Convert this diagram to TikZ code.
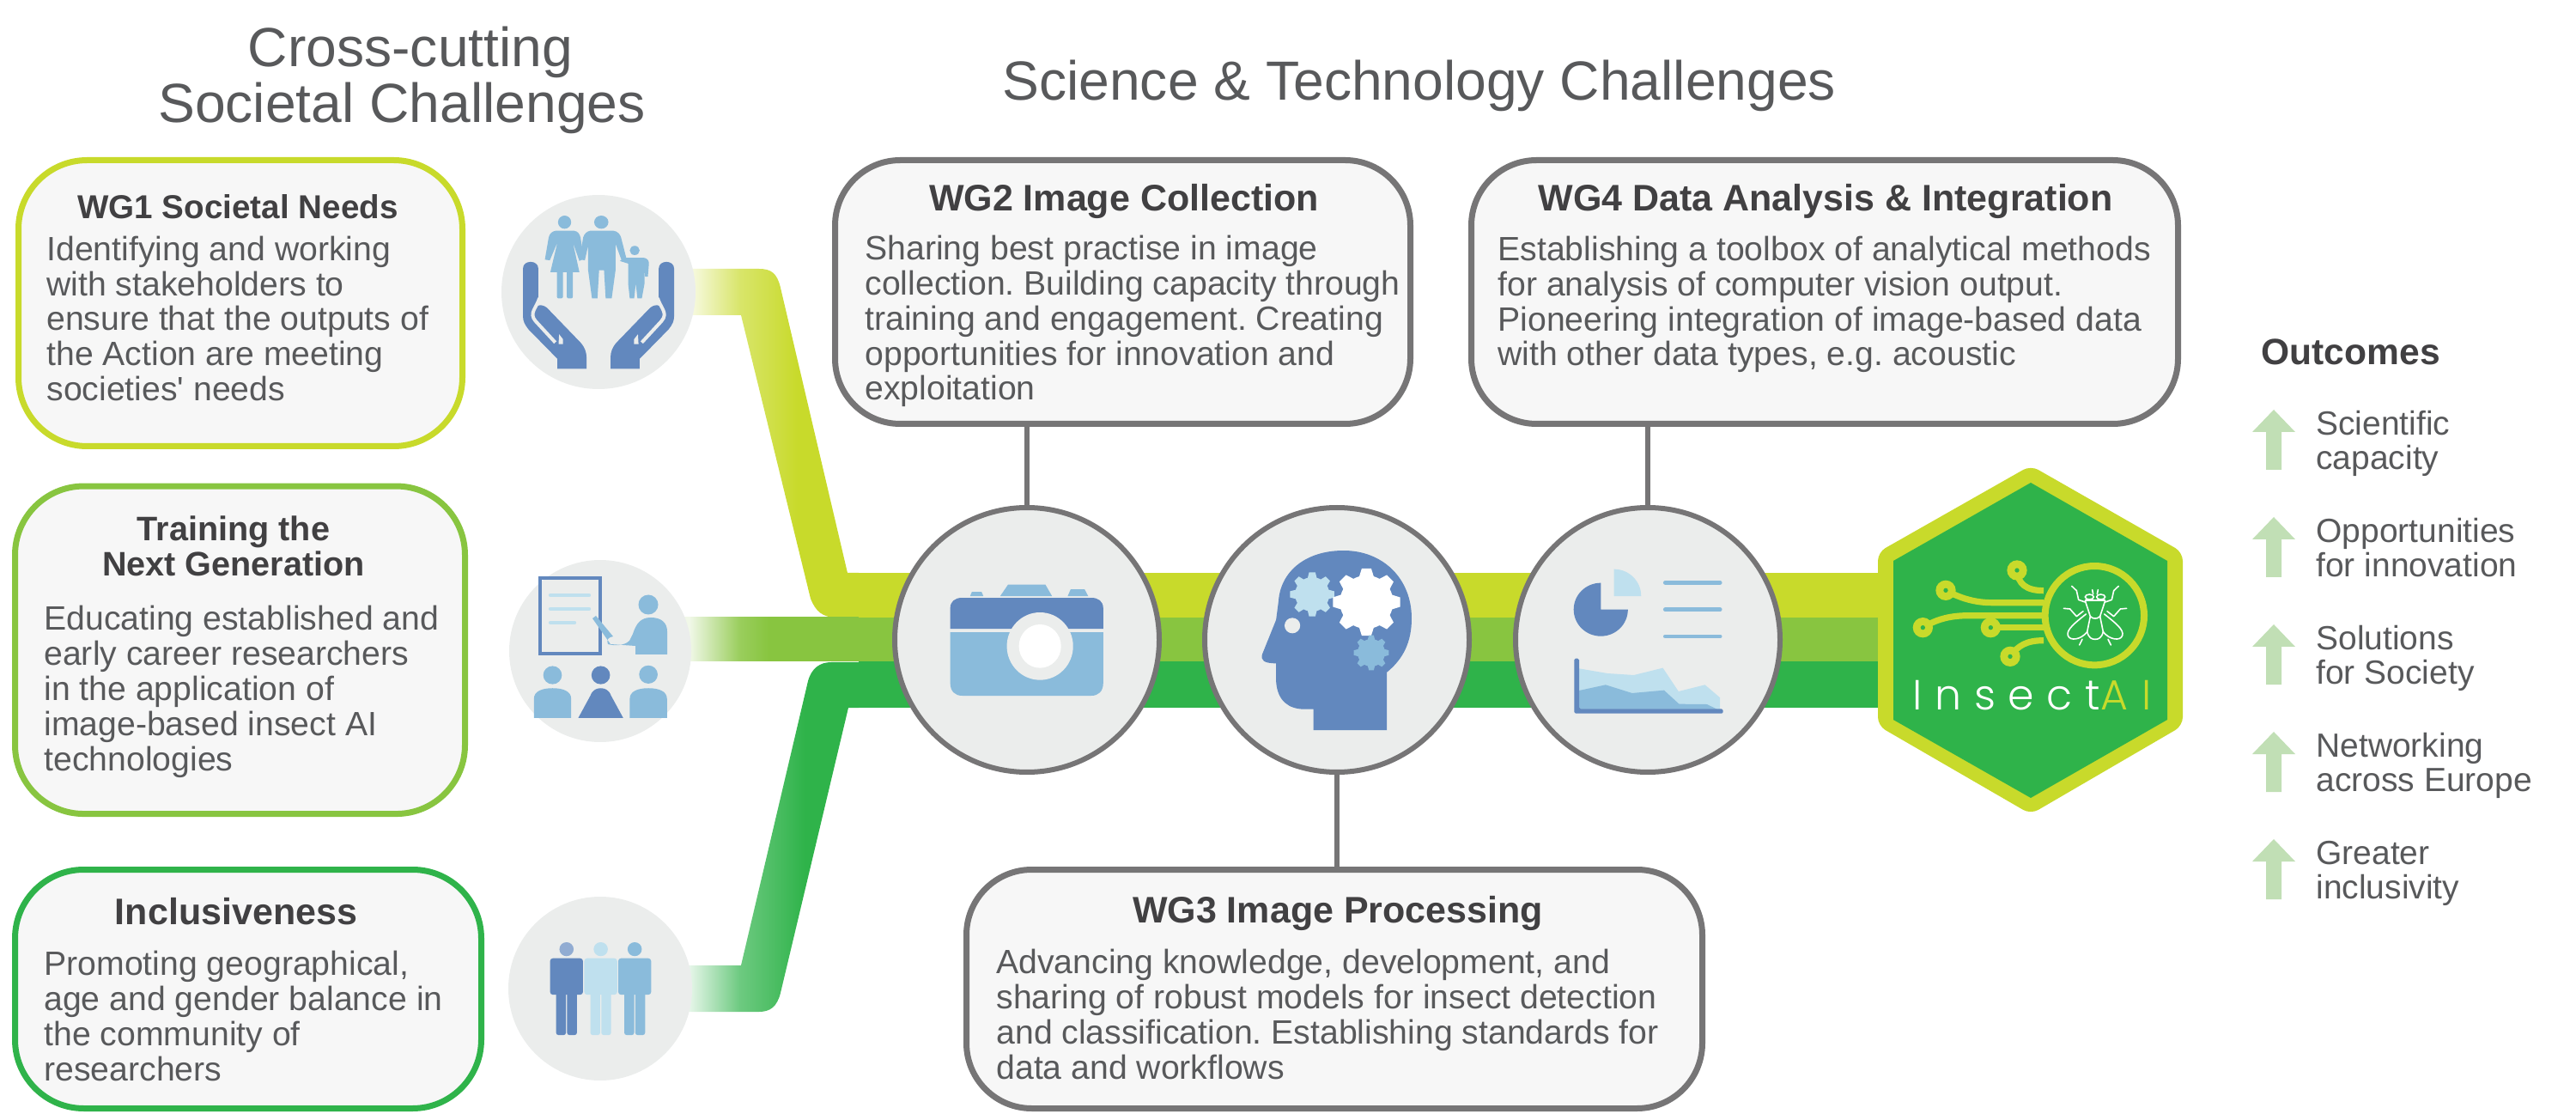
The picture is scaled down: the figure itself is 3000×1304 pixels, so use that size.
\documentclass[tikz,border=0pt]{standalone}
\usepackage{fontspec}
\usetikzlibrary{calc}
\setmainfont{Liberation Sans}
\AtBeginDocument{\frenchspacing}
\IfFontExistsTF{Poppins Light}{\newfontfamily\logofont[LetterSpace=30]{Poppins Light}}{\newfontfamily\logofont[LetterSpace=30]{Poppins}}
\definecolor{lime}{HTML}{C8DA2B}
\definecolor{midgreen}{HTML}{88C540}
\definecolor{darkgreen}{HTML}{2FB34A}
\definecolor{boxfill}{HTML}{F7F7F7}
\definecolor{greyline}{HTML}{767576}
\definecolor{iconbg}{HTML}{EBEDEC}
\definecolor{bluedark}{HTML}{6288BE}
\definecolor{bluemid}{HTML}{8ABBDB}
\definecolor{bluelight}{HTML}{BFE0EE}
\definecolor{bodytext}{HTML}{58595B}
\definecolor{headtext}{HTML}{414042}
\definecolor{arrowgreen}{HTML}{C1DFB5}
\colorlet{limeT}{lime!12!white}
\colorlet{midT}{midgreen!12!white}
\colorlet{darkT}{darkgreen!12!white}
\colorlet{limeM}{lime!70!white}
\colorlet{midM}{midgreen!85!white}
\colorlet{darkM}{darkgreen!70!white}
\pgfdeclarehorizontalshading{tubelime}{100bp}{color(0bp)=(limeT);color(28bp)=(limeT);color(42bp)=(limeM);color(58bp)=(lime);color(100bp)=(lime)}
\pgfdeclarehorizontalshading{tubemid}{100bp}{color(0bp)=(midT);color(28bp)=(midT);color(42bp)=(midM);color(50bp)=(midgreen);color(100bp)=(midgreen)}
\pgfdeclarehorizontalshading{tubedark}{100bp}{color(0bp)=(darkT);color(28bp)=(darkT);color(42bp)=(darkM);color(60bp)=(darkgreen);color(100bp)=(darkgreen)}
\newcommand{\handshape}{%
  \fill[bluedark] (955,425) .. controls (955,398) and (983,398) .. (983,425) -- (983,515) -- (975,548)
    .. controls (978,535) and (992,530) .. (1002,550) -- (1060,650) .. controls (1068,665) and (1071,680) .. (1071,695)
    -- (1071,730) -- (1018,730) -- (1018,700) -- (965,610) .. controls (958,595) and (955,585) .. (955,570) -- cycle;
  \draw[iconbg,line width=2pt] (985,515) .. controls (980,545) and (965,560) .. (978,585) -- (1014,650);
  \fill[iconbg] (1020,655) -- (1021,625) -- (1028,640) -- (1028,655) -- cycle;
}
\newcommand{\gearfig}[5]{% x y R r color
  \fill[#5] (#1,#2) circle[radius=#4];
  \foreach \a in {0,45,...,315}
    \fill[#5] ($(#1,#2)+(\a-17:#4-1)$) -- ($(#1,#2)+(\a-8:#3)$) -- ($(#1,#2)+(\a+8:#3)$) -- ($(#1,#2)+(\a+17:#4-1)$) -- cycle;
}
\newcommand{\personfig}[3]{% x body head
  \fill[#3] (#1,1005) circle[x radius=13,y radius=23];
  \fill[#2,rounded corners=1.6pt] (#1-30,1035) rectangle (#1+30,1155);
  \fill[#2,rounded corners=1.4pt] (#1-19,1145) rectangle (#1-1,1288);
  \fill[#2,rounded corners=1.4pt] (#1+1,1145) rectangle (#1+19,1288);
}
\newcommand{\flyhalf}{%
  \draw (68,52) -- (85,68) -- (92,100) -- (115,108);
  \draw (40,130) -- (62,132) -- (85,158) -- (108,140);
  \draw (118,150) .. controls (80,180) and (48,205) .. (55,225) .. controls (62,245) and (100,240) .. (122,212);
  \draw (122,212) .. controls (128,235) and (140,238) .. (150,238);
  \draw (133,158) -- (122,212);
  \draw (115,103) -- (133,158) .. controls (140,165) and (145,165) .. (150,165);
  \draw (130,90) ellipse [x radius=15, y radius=9];
  \draw (140,65) -- (143,80);
  \draw (95,258) -- (105,238);
}
\tikzset{
  zone/.style={shift={(0,150)},x=0.31888pt,y=-0.19135pt},
  zonem/.style={shift={(1394.1,150)},x=-0.31888pt,y=-0.19135pt},
  ztwo/.style={shift={(0,750)},x=0.31888pt,y=-0.17668pt},
  zthree/.style={shift={(1000,560)},x=0.35075pt,y=-0.16667pt},
  zlogo/.style={shift={(2150,520)},x=0.16667pt,y=-0.16667pt},
  zfly/.style={shift={(2390,665)},x=0.16667pt,y=-0.16667pt},
  zflym/.style={shift={(2490,665)},x=-0.16667pt,y=-0.16667pt},
  wbox/.style={draw=#1,fill=boxfill,line width=3.5pt,rounded corners=38pt,inner sep=0pt,outer sep=0pt},
  sideicon/.style={circle,fill=iconbg,inner sep=0pt,outer sep=0pt},
  wgicon/.style={circle,fill=iconbg,draw=greyline,line width=3pt,minimum size=154pt,inner sep=0pt,outer sep=0pt},
  stem/.style={draw=greyline,line width=2.6pt},
  bodytxt/.style={text=bodytext,align=left,inner sep=0pt,font=\fontsize{19.6pt}{20.4pt}\selectfont},
  headtxt/.style={text=headtext,align=center,inner sep=0pt,font=\fontsize{19.8pt}{20.4pt}\selectfont\bfseries},
  headbig/.style={text=headtext,align=center,inner sep=0pt,font=\fontsize{21.5pt}{22pt}\selectfont\bfseries},
  bigtxt/.style={text=bodytext,inner sep=0pt,font=\fontsize{32.1pt}{34pt}\selectfont},
  outtxt/.style={text=bodytext,align=left,inner sep=0pt,font=\fontsize{19.5pt}{20pt}\selectfont},
  band/.style={fill=#1},
}
\begin{document}
\begin{tikzpicture}[x=0.5pt,y=-0.5pt]
\useasboundingbox (0,0) rectangle (3000,1304);
% tubes
\shade[shading=tubelime] (790,313) -- (884,313) .. controls (898,313) and (905,318) .. (909,335) -- (987,667) -- (1000,667) -- (1000,719) -- (975,719) .. controls (958,719) and (950,712) .. (944,697) -- (863,367) -- (790,367) -- cycle;
\shade[shading=tubemid] (790,719) rectangle (1000,770);
\shade[shading=tubedark] (790,1124) -- (863,1124) -- (941,793) .. controls (945,778) and (955,771) .. (968,771) -- (1000,771) -- (1000,824) -- (988,824) -- (909,1156) .. controls (905,1172) and (897,1178) .. (884,1178) -- (790,1178) -- cycle;
\fill[band=lime] (1000,667) rectangle (2195,719);
\fill[band=midgreen] (1000,719) rectangle (2195,770);
\fill[band=darkgreen] (1000,770) rectangle (2195,824);
% WG boxes
\node[wbox=lime,rounded corners=40pt,minimum width=258.5pt,minimum height=166.5pt] (wgone) at (280,353) {};
\node[wbox=midgreen,rounded corners=40pt,minimum width=262pt,minimum height=190.75pt] (train) at (279.5,756.8) {};
\node[wbox=darkgreen,rounded corners=40pt,minimum width=271.5pt,minimum height=139pt] (incl) at (289,1151.5) {};
\node[wbox=greyline,minimum width=335pt,minimum height=153.5pt] (wgtwo) at (1307.5,340) {};
\node[wbox=greyline,minimum width=411.5pt,minimum height=153.5pt] (wgfour) at (2125,340) {};
\node[wbox=greyline,minimum width=428.5pt,minimum height=139pt] (wgthree) at (1554,1151.5) {};
% side icons
\node[sideicon,minimum size=113pt] (fam) at (697,340) {};
\node[sideicon,minimum size=106pt] (tri) at (699,758) {};
\node[sideicon,minimum size=107pt] (inc) at (699,1151) {};
% main circles
\node[wgicon] (cam) at (1196,745) {};
\node[wgicon] (head) at (1557,745) {};
\node[wgicon] (chart) at (1919,745) {};
\draw[stem] (wgtwo.south -| cam.north) -- (cam.north);
\draw[stem] (wgfour.south -| chart.north) -- (chart.north);
\draw[stem] (wgthree.north -| head.south) -- (head.south);
% family icon
\begin{scope}[zone]
  \handshape
  \fill[bluemid] (1031,284) circle[x radius=12,y radius=20];
  \fill[bluemid] (1098,284) circle[x radius=13,y radius=20];
  \fill[bluemid] (1159,370) circle[x radius=9,y radius=14];
  \fill[bluemid] (1015,310) -- (1048,310) .. controls (1055,312) and (1058,318) .. (1060,330) -- (1066,395) -- (1058,402) -- (1046,345) -- (1058,436) -- (1005,436) -- (1018,345) -- (1004,400) -- (995,398) -- (1002,330) .. controls (1004,318) and (1008,312) .. (1015,310) -- cycle;
  \fill[bluemid,rounded corners=1pt] (1017,430) rectangle (1028,516);
  \fill[bluemid,rounded corners=1pt] (1035,430) rectangle (1046,516);
  \fill[bluemid] (1078,310) -- (1120,310) .. controls (1128,312) and (1132,320) .. (1134,330) -- (1145,402) -- (1136,404) -- (1124,350) -- (1124,430) -- (1117,516) -- (1106,516) -- (1103,430) -- (1094,430) -- (1091,516) -- (1081,516) -- (1074,430) -- (1074,355) -- (1068,400) -- (1058,397) -- (1065,330) .. controls (1067,320) and (1071,312) .. (1078,310) -- cycle;
  \fill[bluemid] (1140,392) -- (1175,392) .. controls (1182,394) and (1185,400) .. (1185,410) -- (1183,450) -- (1178,450) -- (1177,425) -- (1177,470) -- (1172,516) -- (1164,516) -- (1161,470) -- (1158,516) -- (1150,516) -- (1147,470) -- (1147,410) -- (1132,402) -- cycle;
\end{scope}
\begin{scope}[zonem]
  \handshape
\end{scope}
% training icon
\draw[draw=bluedark,line width=2pt] (629,673) rectangle (699,761);
\draw[bluelight,line width=2.2pt,line cap=round] (641,693) -- (686,693);
\draw[bluelight,line width=2.2pt,line cap=round] (641,709) -- (686,709);
\draw[bluelight,line width=2.2pt,line cap=round] (641,725) -- (669,725);
\fill[bluemid] (755,704) circle[radius=11.5];
\fill[bluemid] (740,762) -- (777,762) -- (777,735) .. controls (777,725) and (770,719) .. (758,719) .. controls (746,719) and (741,726) .. (737,738) -- (733,746) .. controls (727,752) and (716,752) .. (708,750) .. controls (706,745) and (708,742) .. (714,741) -- (694,717) -- (690,720) -- (711,750) -- (740,752) -- cycle;
\begin{scope}[ztwo]
  \fill[bluemid] (1009,102) circle[x radius=17,y radius=30];
  \fill[bluedark] (1097,102) circle[x radius=17,y radius=30];
  \fill[bluemid] (1184,100) circle[x radius=17,y radius=30];
  \fill[bluemid] (975,243) -- (975,180) .. controls (975,155) and (990,145) .. (1009,145) .. controls (1028,145) and (1043,155) .. (1043,180) -- (1043,243) -- cycle;
  \fill[bluedark] (1056,243) -- (1078,170) .. controls (1082,150) and (1090,145) .. (1097,145) .. controls (1104,145) and (1112,150) .. (1116,170) -- (1138,243) -- cycle;
  \fill[bluemid] (1150,243) -- (1150,180) .. controls (1150,155) and (1165,145) .. (1184,145) .. controls (1203,145) and (1218,155) .. (1218,180) -- (1218,243) -- cycle;
  \personfig{1034.5}{bluedark}{bluedark!70!white}
  \personfig{1097}{bluelight}{bluelight}
  \personfig{1159}{bluemid}{bluemid}
\end{scope}
% camera
\begin{scope}[zthree]
  \fill[bluemid] (185,402) -- (207,402) -- (204,387) -- (188,387) -- cycle;
  \fill[bluemid] (235,402) -- (321,402) -- (310,362) -- (248,362) -- cycle;
  \fill[bluemid] (347,402) -- (381,402) -- (375,378) -- (352,378) -- cycle;
  \fill[bluedark] (152,516) -- (152,445) .. controls (152,420) and (160,408) .. (172,408) -- (386,408) .. controls (398,408) and (406,420) .. (406,445) -- (406,516) -- cycle;
  \fill[bluemid] (152,528) -- (406,528) -- (406,705) .. controls (406,735) and (398,750) .. (386,750) -- (172,750) .. controls (160,750) and (152,735) .. (152,705) -- cycle;
  \fill[iconbg] (301,577) circle[x radius=55,y radius=118];
  \fill[white] (301,577) circle[x radius=35,y radius=76];
% head
  \fill[bluedark] (755,870) -- (877,870) -- (877,668) .. controls (905,620) and (918,560) .. (918,480) .. controls (918,340) and (870,243) .. (805,243) .. controls (740,243) and (700,320) .. (697,420) -- (693,485) -- (670,605) .. controls (667,625) and (672,637) .. (693,637) -- (693,700) .. controls (695,770) and (715,797) .. (740,797) -- (755,797) -- cycle;
  \fill[iconbg] (720,505) circle[x radius=13,y radius=27];
\end{scope}
\gearfig{1528.2}{692}{26}{20}{bluelight}
\gearfig{1591.4}{701}{39.5}{31}{white}
\gearfig{1597}{760}{20.5}{16}{bluemid}
% chart
\begin{scope}[zthree]
  \fill[bluedark] (1232,449) -- (1232,356) arc[start angle=-90,end angle=-360,x radius=45,y radius=93] -- cycle;
  \fill[bluelight] (1254,402) -- (1254,308) arc[start angle=-90,end angle=0,x radius=45,y radius=94] -- cycle;
  \foreach \yy in {355,449,543}
    \draw[bluemid,line width=2.4pt,line cap=round] (1339,\yy) -- (1430,\yy);
  \fill[bluelight] (1196,655) -- (1243,672) -- (1287,678) -- (1335,653) -- (1361,735) -- (1405,712) -- (1430,757) -- (1430,797) -- (1196,797) -- cycle;
  \fill[bluemid] (1196,732) -- (1240,712) -- (1284,741) -- (1337,731) -- (1362,779) -- (1408,780) -- (1425,797) -- (1196,797) -- cycle;
  \fill[bluedark,rounded corners=0.8pt] (1188,812) -- (1188,620) -- (1196,620) -- (1196,796) -- (1435,796) -- (1435,812) -- cycle;
\end{scope}
% hexagon logo
\fill[lime,rounded corners=5pt] (2365,542) -- (2542,643) -- (2542,845) -- (2365,948) -- (2187,845) -- (2187,643) -- cycle;
\fill[darkgreen] (2365,562) -- (2524,653) -- (2524,838) -- (2365,929) -- (2205,838) -- (2205,653) -- cycle;
\begin{scope}[zlogo]
  \draw[lime,line width=3.6pt] (597,432) .. controls (600,480) and (630,503) .. (690,503);
  \draw[lime,line width=3.6pt] (348,502) .. controls (400,530) and (450,545) .. (510,545) -- (690,545);
  \draw[lime,line width=3.6pt] (268,632) .. controls (320,600) and (370,590) .. (430,590) -- (690,590);
  \draw[lime,line width=3.6pt] (505,632) -- (690,632);
  \draw[lime,line width=3.6pt] (573,733) .. controls (600,695) and (630,677) .. (690,677);
  \foreach \px/\py in {597/432,348/502,268/632,505/632,573/733} {
    \fill[lime] (\px,\py) circle[radius=35];
    \fill[darkgreen] (\px,\py) circle[radius=8];
  }
  \draw[lime,line width=4pt,fill=darkgreen] (868,590) circle[radius=173];
\end{scope}
\begin{scope}[zfly,white,line width=0.8pt,line cap=round,line join=round]
  \flyhalf
\end{scope}
\begin{scope}[zflym,white,line width=0.8pt,line cap=round,line join=round]
  \flyhalf
\end{scope}
\draw[white,line width=0.8pt] (2428,699.3) -- (2452,699.3);
\node[anchor=base west,inner sep=0pt,font=\logofont\fontsize{24.5pt}{26pt}\selectfont] (logotext) at (2227,827) {\textcolor{white}{Insect}\textcolor{lime}{A\kern8pt I}};
% headings
\node[bigtxt,anchor=base] (crossa) at (478,78) {Cross-cutting};
\node[bigtxt,anchor=base] (crossb) at (468,143) {Societal Challenges};
\node[bigtxt,anchor=base west] (science) at (1167,117) {Science \& Technology Challenges};
% box text
\node[headtxt,font=\fontsize{19.3pt}{20pt}\selectfont\bfseries,anchor=base] (wgonet) at (277,254.5) {WG1 Societal Needs};
\node[bodytxt,anchor=base west] (wgoneb) at (54,466.5) {Identifying and working\\with stakeholders to\\ensure that the outputs of\\the Action are meeting\\societies\textquotesingle\ needs};
\node[headtxt,anchor=base] (traint) at (272,670.5) {Training the\\Next Generation};
\node[bodytxt,anchor=base west] (trainb) at (51,897) {Educating established and\\early career researchers\\in the application of\\image-based insect AI\\technologies};
\node[headbig,anchor=base] (inclt) at (275,1076) {Inclusiveness};
\node[bodytxt,anchor=base west] (inclb) at (51,1258) {Promoting geographical,\\age and gender balance in\\the community of\\researchers};
\node[headbig,anchor=base] (wgtwot) at (1309,245.5) {WG2 Image Collection};
\node[bodytxt,anchor=base west] (wgtwob) at (1007,466) {Sharing best practise in image\\collection. Building capacity through\\training and engagement. Creating\\opportunities for innovation and\\exploitation};
\node[headbig,anchor=base] (wgfourt) at (2126,245.5) {WG4 Data Analysis \& Integration};
\node[bodytxt,anchor=base west] (wgfourb) at (1744,426) {Establishing a toolbox of analytical methods\\for analysis of computer vision output.\\Pioneering integration of image-based data\\with other data types, e.g. acoustic};
\node[headbig,anchor=base] (wgthreet) at (1558,1074.5) {WG3 Image Processing};
\node[bodytxt,anchor=base west] (wgthreeb) at (1160,1256) {Advancing knowledge, development, and\\sharing of robust models for insect detection\\and classification. Establishing standards for\\data and workflows};
% outcomes
\node[anchor=base west,inner sep=0pt,text=headtext,font=\fontsize{21.3pt}{23pt}\selectfont\bfseries] (outcomes) at (2633,425) {Outcomes};
\foreach \i/\la/\lb in {0/Scientific/capacity,1/Opportunities/for innovation,2/Solutions/for Society,3/Networking/across Europe,4/Greater/inclusivity} {
  \begin{scope}[shift={(0,125*\i)}]
    \fill[arrowgreen] (2648,477) -- (2673,503) -- (2657,503) -- (2657,547) -- (2639,547) -- (2639,503) -- (2623,503) -- cycle;
    \node[outtxt,anchor=base west] (out\i) at (2697,546.5) {\la\\\lb};
  \end{scope}
}
\end{tikzpicture}
\end{document}
